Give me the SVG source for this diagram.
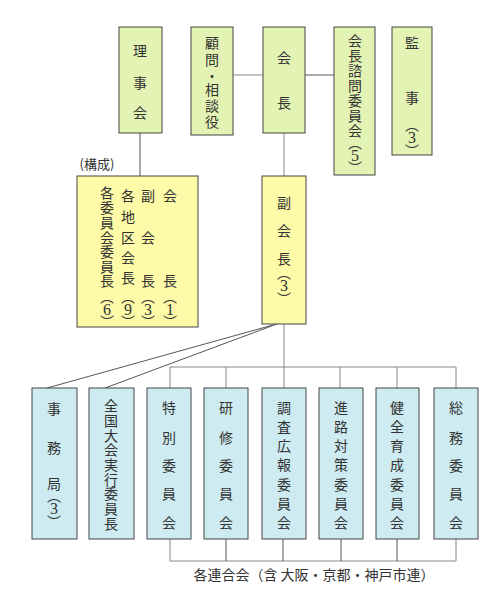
<svg xmlns="http://www.w3.org/2000/svg" width="500" height="600" viewBox="0 0 500 600">
<style>
text{font-family:"Noto Sans CJK JP","Noto Sans CJK SC",sans-serif;font-size:14px;fill:#333;text-anchor:middle;dominant-baseline:central}
text.d{font-family:"Liberation Serif","DejaVu Serif",serif;font-size:16px}
.g{fill:#e3f3b3;stroke:#444;stroke-width:1}
.y{fill:#fdfaa8;stroke:#444;stroke-width:1}
.b{fill:#cdebf0;stroke:#444;stroke-width:1}
.ln{fill:none;stroke:#555;stroke-width:1}
.lg{fill:none;stroke:#888;stroke-width:1}
.sm{font-size:13px}
</style>
<rect width="500" height="600" fill="#fff"/>
<g id="connectors">
<line class="ln" x1="140" y1="133" x2="140" y2="176"/>
<line class="lg" x1="233" y1="75" x2="263" y2="75"/>
<line class="ln" x1="305" y1="75" x2="334" y2="75"/>
<line class="lg" x1="284" y1="133" x2="284" y2="176"/>
<line class="lg" x1="284" y1="324" x2="284" y2="388"/>
<line class="ln" x1="273" y1="325" x2="47" y2="388"/>
<line class="ln" x1="277" y1="324" x2="105" y2="388"/>
<polyline class="lg" points="170,388 170,367 456,367 456,388"/>
<line class="lg" x1="226" y1="367" x2="226" y2="388"/>
<line class="lg" x1="340" y1="367" x2="340" y2="388"/>
<line class="lg" x1="397" y1="367" x2="397" y2="388"/>
<polyline class="lg" points="170,539 170,561 456,561 456,539"/>
<line class="ln" x1="226" y1="539" x2="226" y2="561"/>
<line class="ln" x1="283" y1="539" x2="283" y2="561"/>
<line class="ln" x1="341" y1="539" x2="341" y2="561"/>
<line class="ln" x1="397" y1="539" x2="397" y2="561"/>
</g>
<g id="rijikai"><rect class="g" x="119" y="27" width="43" height="106"/>
<text x="140" y="50">理</text><text x="140" y="82">事</text><text x="140" y="112">会</text></g>
<g id="komon"><rect class="g" x="191" y="27" width="42" height="108"/>
<text x="212" y="42">顧</text><text x="212" y="59">問</text><text x="212" y="75">・</text><text x="212" y="89">相</text><text x="212" y="105">談</text><text x="212" y="121">役</text></g>
<g id="kaicho"><rect class="g" x="263" y="27" width="42" height="106"/>
<text x="284" y="57">会</text><text x="284" y="102">長</text></g>
<g id="shimon"><rect class="g" x="334" y="27" width="41" height="148"/>
<text x="355" y="40">会</text><text x="355" y="55">長</text><text x="355" y="70">諮</text><text x="355" y="85">問</text><text x="355" y="100">委</text><text x="355" y="115">員</text><text x="355" y="130">会</text><text x="355" y="142">︵</text><text class="d" x="355" y="155">5</text><text x="355" y="167">︶</text></g>
<g id="kanji"><rect class="g" x="392" y="27" width="40" height="128"/>
<text x="412" y="42">監</text><text x="412" y="97">事</text><text x="412" y="124">︵</text><text class="d" x="412" y="137">3</text><text x="412" y="150">︶</text></g>
<text x="97" y="163" class="sm">(構成)</text>
<g id="kousei"><rect class="y" x="77" y="176" width="121" height="151"/>
<text x="170" y="195">会</text><text x="170" y="280">長</text><text x="170" y="296">︵</text><text class="d" x="170" y="309">1</text><text x="170" y="321">︶</text>
<text x="148" y="195">副</text><text x="148" y="237">会</text><text x="148" y="280">長</text><text x="148" y="296">︵</text><text class="d" x="148" y="309">3</text><text x="148" y="321">︶</text>
<text x="128" y="195">各</text><text x="128" y="216">地</text><text x="128" y="237">区</text><text x="128" y="257">会</text><text x="128" y="277">長</text><text x="128" y="296">︵</text><text class="d" x="128" y="309">9</text><text x="128" y="321">︶</text>
<text x="107" y="192">各</text><text x="107" y="207">委</text><text x="107" y="222">員</text><text x="107" y="237">会</text><text x="107" y="251">委</text><text x="107" y="266">員</text><text x="107" y="280">長</text><text x="107" y="296">︵</text><text class="d" x="107" y="309">6</text><text x="107" y="321">︶</text></g>
<g id="fukukaicho"><rect class="y" x="262" y="176" width="44" height="148"/>
<text x="284" y="202">副</text><text x="284" y="230">会</text><text x="284" y="258">長</text><text x="284" y="272">︵</text><text class="d" x="284" y="285">3</text><text x="284" y="298">︶</text></g>
<g id="jimukyoku"><rect class="b" x="32" y="388" width="45" height="151"/>
<text x="54" y="408">事</text><text x="54" y="447">務</text><text x="54" y="483">局</text><text x="54" y="495">︵</text><text class="d" x="54" y="508">3</text><text x="54" y="521">︶</text></g>
<g id="zenkoku"><rect class="b" x="89" y="388" width="45" height="151"/>
<text x="111" y="405">全</text><text x="111" y="420">国</text><text x="111" y="435">大</text><text x="111" y="449">会</text><text x="111" y="464">実</text><text x="111" y="479">行</text><text x="111" y="493">委</text><text x="111" y="508">員</text><text x="111" y="523">長</text></g>
<g id="tokubetsu"><rect class="b" x="147" y="388" width="44" height="151"/>
<text x="169" y="407">特</text><text x="169" y="437">別</text><text x="169" y="465">委</text><text x="169" y="493">員</text><text x="169" y="522">会</text></g>
<g id="kenshu"><rect class="b" x="204" y="388" width="44" height="151"/>
<text x="226" y="407">研</text><text x="226" y="437">修</text><text x="226" y="465">委</text><text x="226" y="493">員</text><text x="226" y="522">会</text></g>
<g id="chosa"><rect class="b" x="262" y="388" width="44" height="151"/>
<text x="284" y="407">調</text><text x="284" y="426">査</text><text x="284" y="445">広</text><text x="284" y="464">報</text><text x="284" y="484">委</text><text x="284" y="503">員</text><text x="284" y="522">会</text></g>
<g id="shinro"><rect class="b" x="319" y="388" width="44" height="151"/>
<text x="341" y="407">進</text><text x="341" y="426">路</text><text x="341" y="445">対</text><text x="341" y="464">策</text><text x="341" y="484">委</text><text x="341" y="503">員</text><text x="341" y="522">会</text></g>
<g id="kenzen"><rect class="b" x="376" y="388" width="43" height="151"/>
<text x="397" y="407">健</text><text x="397" y="426">全</text><text x="397" y="445">育</text><text x="397" y="464">成</text><text x="397" y="484">委</text><text x="397" y="503">員</text><text x="397" y="522">会</text></g>
<g id="somu"><rect class="b" x="434" y="388" width="44" height="151"/>
<text x="456" y="407">総</text><text x="456" y="437">務</text><text x="456" y="465">委</text><text x="456" y="493">員</text><text x="456" y="522">会</text></g>
<text x="314" y="574">各連合会（含 大阪・京都・神戸市連）</text>
</svg>
